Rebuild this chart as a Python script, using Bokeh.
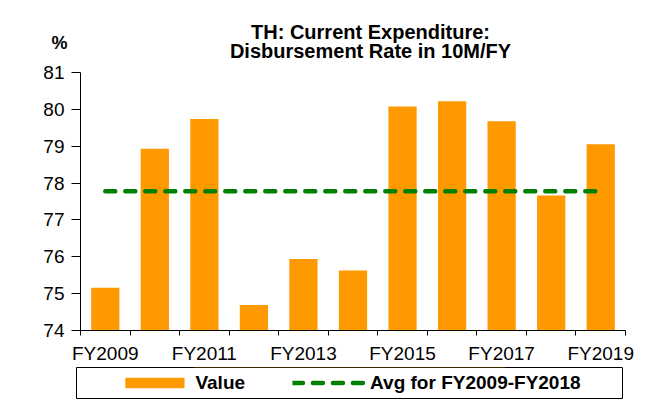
from bokeh.plotting import figure
from bokeh.layouts import column
from bokeh.models import Range1d, FixedTicker, Label, Legend, LegendItem
from bokeh.embed import file_html
from bokeh.resources import INLINE

# ---- data ----
fiscal_years = ["FY2009", "FY2010", "FY2011", "FY2012", "FY2013", "FY2014",
                "FY2015", "FY2016", "FY2017", "FY2018", "FY2019"]
disbursement_rate = [75.16, 78.93, 79.74, 74.69, 75.94, 75.63,
                     80.08, 80.22, 79.68, 77.66, 79.05]
avg_rate = 77.78
avg_label = "Avg for FY2009-FY2018"
bar_label = "Value"
y_ticks = [74, 75, 76, 77, 78, 79, 80, 81]
labelled_years = ["FY2009", "FY2011", "FY2013", "FY2015", "FY2017", "FY2019"]
title_text = "TH: Current Expenditure:\nDisbursement Rate in 10M/FY"
unit_text = "%"

FONT = "Liberation Sans"
ORANGE = "#FF9900"
GREEN = "#008000"
W = 667
HEAD_H = 61

x_pos = list(range(len(fiscal_years)))

# ---------- header: title and unit ----------
head = figure(width=W, height=HEAD_H, output_backend="svg", toolbar_location=None,
              title=None, x_axis_location=None, y_axis_location=None,
              x_range=Range1d(0, W), y_range=Range1d(0, HEAD_H),
              min_border_left=0, min_border_right=0, min_border_top=0,
              min_border_bottom=0)
head.frame_align = False
head.grid.visible = False
head.outline_line_color = None
head.add_layout(Label(x=370, y=HEAD_H - 41, text=title_text, text_align="center",
                      text_baseline="middle", text_font=FONT, text_font_size="20px",
                      text_font_style="bold", text_line_height=0.9,
                      text_color="black"))
head.add_layout(Label(x=59, y=HEAD_H - 42, text=unit_text, text_align="center",
                      text_baseline="middle", text_font=FONT, text_font_size="18px",
                      text_font_style="bold", text_color="black"))

# ---------- main chart ----------
p = figure(width=W, height=305, output_backend="svg", toolbar_location=None,
           title=None,
           x_range=Range1d(-0.5, len(fiscal_years) - 0.5),
           y_range=Range1d(y_ticks[0], y_ticks[-1]),
           min_border_left=80, min_border_right=42,
           min_border_top=11, min_border_bottom=36)
p.frame_align = False
p.xgrid.visible = False
p.ygrid.visible = False
p.outline_line_color = None

bars = p.vbar(x=x_pos, top=disbursement_rate, bottom=y_ticks[0], width=0.57,
              fill_color=ORANGE, line_color=None)
avg_line = p.line(x=[x_pos[0], x_pos[-1]], y=[avg_rate, avg_rate],
                  line_color=GREEN, line_width=4.5, line_dash="10 10",
                  line_cap="round")

major = [fiscal_years.index(y) for y in labelled_years]
p.xaxis.ticker = FixedTicker(ticks=major,
                             minor_ticks=[i - 0.5 for i in range(len(fiscal_years) + 1)])
p.xaxis.major_label_overrides = {fiscal_years.index(y): y for y in labelled_years}
p.xaxis.major_tick_out = 0
p.xaxis.major_tick_in = 0
p.xaxis.minor_tick_out = 5
p.xaxis.minor_tick_in = 0
p.xaxis.major_label_standoff = 7

p.yaxis.ticker = FixedTicker(ticks=y_ticks, minor_ticks=[])
p.yaxis.major_tick_out = 9
p.yaxis.major_tick_in = 0
p.yaxis.minor_tick_out = 0
p.yaxis.major_label_standoff = 7

for ax in (p.xaxis, p.yaxis):
    ax.axis_line_color = "black"
    ax.major_tick_line_color = "black"
    ax.minor_tick_line_color = "black"
    ax.major_label_text_font = FONT
    ax.major_label_text_font_size = "19px"
    ax.major_label_text_color = "black"

# ---------- legend strip (legend keys styled like the chart's series) ----------
leg = figure(width=W, height=35, output_backend="svg", toolbar_location=None,
             title=None, x_axis_location=None, y_axis_location=None,
             x_range=Range1d(-0.5, 0.5), y_range=Range1d(0, 1),
             min_border_left=76, min_border_right=45, min_border_top=1,
             min_border_bottom=3)
leg.frame_align = False
leg.grid.visible = False
leg.outline_line_color = "black"
leg.outline_line_width = 1
bar_key = leg.vbar(x=x_pos, top=disbursement_rate, bottom=y_ticks[0], width=0.57,
                   fill_color=ORANGE, line_color=None)
avg_key = leg.line(x=[x_pos[0], x_pos[-1]], y=[avg_rate, avg_rate],
                   line_color=GREEN, line_width=4.5, line_dash="10 10",
                   line_cap="round")
legend = Legend(items=[LegendItem(label=bar_label, renderers=[bar_key]),
                       LegendItem(label=avg_label, renderers=[avg_key])],
                orientation="horizontal", location="center",
                glyph_width=74, glyph_height=13, label_standoff=4, spacing=47,
                padding=0, margin=0, border_line_color=None,
                background_fill_alpha=0,
                label_text_font=FONT, label_text_font_style="bold",
                label_text_font_size="19px", label_text_color="black")
leg.add_layout(legend)

page = column(head, p, leg, spacing=0)

open("out.html", "w").write(file_html(page, INLINE))
